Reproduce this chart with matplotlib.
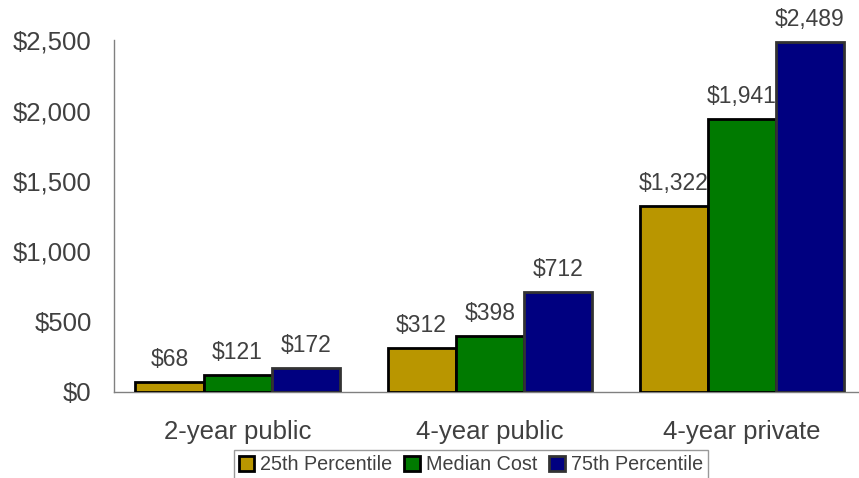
import matplotlib
matplotlib.use("Agg")
import matplotlib.pyplot as plt
import numpy as np

categories = ["2-year public", "4-year public", "4-year private"]
series_names = ["25th Percentile", "Median Cost", "75th Percentile"]
p25 = [68, 312, 1322]
median = [121, 398, 1941]
p75 = [172, 712, 2489]
yticks = [0, 500, 1000, 1500, 2000, 2500]

colors = ["#B99600", "#007A00", "#000080"]
edges = ["#000000", "#000000", "#333333"]
txt = "#404040"

plt.rcParams['font.family'] = ['Liberation Sans', 'DejaVu Sans']
fig = plt.figure(figsize=(8.59, 4.78), dpi=100)
ax = fig.add_axes([0.1327, 0.18, 0.866, 0.736])

x = np.arange(len(categories))
w = 0.27
for i, (vals, name) in enumerate(zip([p25, median, p75], series_names)):
    bars = ax.bar(x + (i - 1) * w, vals, w, color=colors[i], edgecolor=edges[i],
                  linewidth=2, label=name, zorder=3)
    for b, v in zip(bars, vals):
        ax.annotate(f"${v:,}", (b.get_x() + b.get_width() / 2, v),
                    xytext=(0, 8), textcoords="offset points",
                    ha="center", va="bottom", fontsize=16.5, color=txt)

ax.set_xlim(-0.49, 2.46)
ax.set_ylim(0, 2500)
ax.set_yticks(yticks)
ax.set_yticklabels([f"${v:,}" for v in yticks], fontsize=18.5, color=txt)
ax.set_xticks(x)
ax.set_xticklabels(categories, fontsize=18.5, color=txt)
ax.tick_params(axis="y", length=0, pad=16)
ax.tick_params(axis="x", length=0, pad=20)
for s in ["top", "right"]:
    ax.spines[s].set_visible(False)
for s in ["left", "bottom"]:
    ax.spines[s].set_color("#808080")
    ax.spines[s].set_linewidth(1)

leg = fig.legend(loc="upper center", bbox_to_anchor=(0.548, 0.058), ncol=3,
                 fontsize=14.2, frameon=True, fancybox=False, handlelength=0.8,
                 handleheight=0.8, handletextpad=0.3, columnspacing=0.6,
                 borderpad=0.25, labelcolor=txt, borderaxespad=0)
leg.get_frame().set_edgecolor("#808080")
leg.get_frame().set_linewidth(1)

fig.savefig("out.png", dpi=100)
